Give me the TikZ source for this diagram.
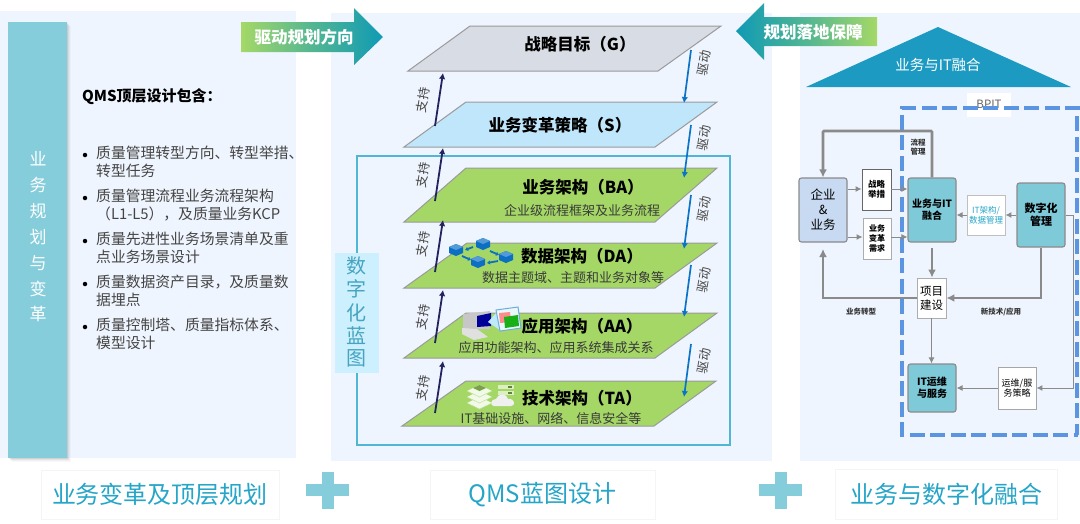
\documentclass[tikz,border=0pt]{standalone}
\usepackage{fontspec}
\setmainfont{Noto Sans CJK SC}
\usetikzlibrary{arrows.meta,calc}
\definecolor{panel}{HTML}{EFF5FE}
\definecolor{barc}{HTML}{85CDDB}
\definecolor{teal}{HTML}{0F9AB5}
\definecolor{lime}{HTML}{A5D867}
\definecolor{planeg}{HTML}{D8DCE4}
\definecolor{planes}{HTML}{BFE6FA}
\definecolor{planeb}{HTML}{A4D766}
\definecolor{planeline}{HTML}{9A9A9A}
\definecolor{navy}{HTML}{22235F}
\definecolor{drive}{HTML}{0B74C8}
\definecolor{frameb}{HTML}{4FB6D6}
\definecolor{titleb}{HTML}{25A5C8}
\definecolor{boxg}{HTML}{8A8A8A}
\definecolor{fusion}{HTML}{7FCAD9}
\definecolor{ent}{HTML}{C8DAF2}
\definecolor{dashb}{HTML}{5B94E0}
\definecolor{txt}{HTML}{444444}
\definecolor{hexc}{HTML}{0B6FC4}
\definecolor{roofc}{HTML}{1D9AC2}
\definecolor{bluebox}{HTML}{CDF0FE}
\newcommand{\fsz}[1]{\fontsize{#1}{\the\dimexpr#1pt*12/10\relax}\selectfont}
\newcommand{\hexa}[2]{\fill[hexc] (#1,#2-6) -- (#1+7,#2-3) -- (#1+7,#2+3) -- (#1,#2+6) -- (#1-7,#2+3) -- (#1-7,#2-3) -- cycle;
 \fill[hexc!70!white] (#1,#2-6) -- (#1+7,#2-3) -- (#1,#2) -- (#1-7,#2-3) -- cycle;}
\tikzset{
 plane/.style={draw=planeline,line width=1pt,line join=miter},
 supportarrow/.style={navy,line width=1.8pt,-{Latex[length=6pt,width=6.5pt]}},
 drivearrow/.style={drive,line width=1.7pt,-{Latex[length=6pt,width=6.5pt]}},
 ptitle/.style={font=\fsz{16.5}\bfseries,text=black,inner sep=0pt},
 psub/.style={font=\fsz{13},text=txt!85!black,inner sep=0pt},
 sidelabel/.style={font=\fsz{12.5},text=txt,rotate=80,inner sep=0pt},
 botbox/.style={draw=black!4,fill=white,inner sep=0pt,anchor=center,font=\fsz{24},text=titleb},
 listline/.style={font=\fsz{14.8},text=txt,anchor=west,inner sep=0pt},
 bulletdot/.style={circle,fill=black,inner sep=0pt,minimum size=4.5pt},
 bartext/.style={font=\fsz{17},text=white,inner sep=0pt},
 bluetext/.style={font=\fsz{20},text=frameb!90!black,inner sep=0pt},
 rbox/.style={draw=boxg,line width=1.1pt,rounded corners=2.5pt,align=center,inner sep=0pt},
 wbox/.style={draw=boxg!70,fill=white,line width=.9pt,align=center,inner sep=0pt},
 thickcon/.style={boxg,line width=2.6pt,-{Latex[length=8pt,width=8pt]}},
 thincon/.style={boxg,line width=1pt,-{Latex[length=6pt,width=6pt]}},
 smalllabel/.style={font=\fsz{7.5}\bfseries,text=black!80,inner sep=0pt,align=center},
}
\begin{document}
\begin{tikzpicture}[x=1pt,y=-1pt]
\useasboundingbox (0,0) rectangle (1080,523);
\fill[white] (0,0) rectangle (1080,523);
% panels
\fill[panel] (0,11) rectangle (296,458);
\fill[panel] (331,13) rectangle (772,461);
\fill[panel] (800,13) rectangle (1080,461);
% left bar
\foreach \d/\o in {4/.025,3/.035,2/.05,1/.07}{\fill[black,opacity=\o] (8+\d,22+\d) rectangle (67+\d,458+\d);}
\fill[barc] (8,22) rectangle (67,458);
\foreach \c/\y in {业/159,务/185,规/211,划/237,与/263,变/289,革/314}{\node[bartext] (bar\y) at (38,\y) {\c};}
% left list
\node[font=\fsz{15}\bfseries,anchor=west,inner sep=0pt] (ltitle) at (82,97) {QMS顶层设计包含：};
\foreach \y in {155,198,241,284,327}{\node[bulletdot] (bul\y) at (85,\y) {};}
\node[listline] (l1) at (96,153) {质量管理转型方向、转型举措、};
\node[listline] (l2) at (96,171) {转型任务};
\node[listline] (l3) at (96,196) {质量管理流程业务流程架构};
\node[listline] (l4) at (96,214) {（L1-L5），及质量业务KCP};
\node[listline] (l5) at (96,239) {质量先进性业务场景清单及重};
\node[listline] (l6) at (96,257) {点业务场景设计};
\node[listline] (l7) at (96,282) {质量数据资产目录，及质量数};
\node[listline] (l8) at (96,300) {据埋点};
\node[listline] (l9) at (96,325) {质量控制塔、质量指标体系、};
\node[listline] (l10) at (96,343) {模型设计};
% big arrows
\shade[left color=lime,right color=teal,middle color=teal!55!lime] (241,22) -- (354,22) -- (354,8) -- (383,37) -- (354,65) -- (354,52) -- (241,52) -- cycle;
\node[font=\fsz{16.5}\bfseries,text=white,inner sep=0pt] (a1) at (304,37) {驱动规划方向};
\shade[left color=teal,right color=lime,middle color=teal!55!lime] (877,17) -- (764,17) -- (764,3) -- (736,31) -- (764,60) -- (764,46) -- (877,46) -- cycle;
\node[font=\fsz{16.5}\bfseries,text=white,inner sep=0pt] (a2) at (813,32) {规划落地保障};
% frame
\draw[frameb,line width=1.2pt] (357,156) rectangle (730,445);
\fill[bluebox] (335,253) rectangle (379,373);
\foreach \c/\y in {数/266,字/289,化/313,蓝/336,图/358}{\node[bluetext] (blue\y) at (356,\y) {\c};}
% planes
\draw[plane,fill=planeg] (470,26) -- (721,26) -- (658,71) -- (408,71) -- cycle;
\draw[plane,fill=planes] (466,102) -- (717,102) -- (655,147) -- (404,147) -- cycle;
\draw[plane,fill=planeb] (466,168) -- (717,168) -- (655,222) -- (404,222) -- cycle;
\draw[plane,fill=planeb] (467,243) -- (717,243) -- (655,288) -- (404,288) -- cycle;
\draw[plane,fill=planeb] (466,313) -- (717,313) -- (655,358) -- (404,358) -- cycle;
\draw[plane,fill=planeb] (466,381) -- (716,381) -- (654,426) -- (402,426) -- cycle;
\node[ptitle] (g) at (580,44) {战略目标（G）};
\node[ptitle] (s) at (560,125) {业务变革策略（S）};
\node[ptitle] (ba) at (583,187) {业务架构（BA）};
\node[psub] (bas) at (582,211) {企业级流程框架及业务流程};
\node[ptitle] (da) at (582,256) {数据架构（DA）};
\node[psub] (das) at (573,278) {数据主题域、主题和业务对象等};
\node[ptitle] (aa) at (582,326) {应用架构（AA）};
\node[psub] (aas) at (556,348) {应用功能架构、应用系统集成关系};
\node[ptitle] (ta) at (582,398) {技术架构（TA）};
\node[psub] (tas) at (551,418) {IT基础设施、网络、信息安全等};
% support / drive arrows
\foreach \i/\x/\y/\u/\v in {1/435/126/443/73,2/435/201/443/148,3/435/272/443/220,4/435/343/443/290,5/435/413/443/361}{
 \coordinate (su\i) at (\x,\y); \coordinate (sv\i) at (\u,\v);
 \draw[supportarrow] (su\i) -- (sv\i);}
\foreach \i/\x/\y/\u/\v in {1/691/50/684/103,2/691/125/684/178,3/691/195/684/249,4/691/265/684/317,5/691/344/684/397}{
 \coordinate (du\i) at (\x,\y); \coordinate (dv\i) at (\u,\v);
 \draw[drivearrow] (du\i) -- (dv\i);}
\foreach \i/\y in {1/100,2/175,3/244,4/317,5/388}{\node[sidelabel] (sl\i) at (423,\y) {支持};}
\foreach \i/\y in {1/63,2/138,3/209,4/280,5/361}{\node[sidelabel] (dl\i) at (704,\y) {驱动};}
% data icon
\hexa{456}{250}\hexa{483}{244}\hexa{506}{257}\hexa{478}{262}
\draw[hexc,line width=1.8pt,-{Latex[length=3pt,width=4.5pt]}] (473,247) -- (465,250);
\draw[hexc,line width=1.8pt,-{Latex[length=3pt,width=4.5pt]}] (490,251) -- (499,255);
\draw[hexc,line width=1.8pt,-{Latex[length=3pt,width=4.5pt]}] (462,256) -- (471,260);
\draw[hexc,line width=1.8pt,-{Latex[length=3pt,width=4.5pt]}] (498,261) -- (487,263);
% app icon
\fill[black!22] (463,314) -- (490,311) -- (490,329) -- (463,330) -- cycle;
\fill[black!12] (462,328) -- (477,329) -- (488,337) -- (474,340) -- (462,334) -- cycle;
\fill[blue!60!black] (477,316) -- (491,313) -- (491,326) -- (477,327) -- cycle;
\fill[cyan!25] (488,322) -- (497,312) -- (500,330) -- cycle;
\draw[drive!60,fill=yellow!15!cyan!10,line width=1pt] (496,310) -- (518,307) -- (521,328) -- (500,331) -- cycle;
\fill[red!45] (499,313) -- (510,312) -- (511,322) -- (500,323) -- cycle;
\fill[green!65!black!90] (504,317) -- (518,315) -- (519,326) -- (505,328) -- cycle;
% tech icon
\foreach \y in {403,397,391}{\fill[white!85!planeb] (467,\y) -- (479.5,\y-6) -- (492,\y) -- (479.5,\y+6) -- cycle;
 \draw[planeb!70,line width=.5pt] (467,\y) -- (479.5,\y+6) -- (492,\y);}
\fill[planeb!75!black] (473,388) -- (479.5,385) -- (486,388) -- (479.5,391) -- cycle;
\fill[white!60!planeb] (498,385) rectangle (514,389);
\fill[white!60!planeb] (498,390.5) rectangle (514,394.5);
\fill[planeb!60!black] (508,386) rectangle (512,388);
\fill[planeb!60!black] (508,391.5) rectangle (512,393.5);
\fill[black!6] (494,406) .. controls (490,406) and (490,399) .. (496,399) .. controls (498,393) and (507,393) .. (508,399) .. controls (515,398) and (516,406) .. (511,406) -- cycle;
% right triangle
\fill[roofc] (938,27) -- (1071,87) -- (806,87) -- cycle;
\node[font=\fsz{14.5},text=white,inner sep=0pt] (tri) at (938,65) {业务与IT融合};
% BPIT dashed
\fill[white] (967,93) rectangle (1011,117);
\node[font=\fsz{11.5},text=black!60,inner sep=0pt] (bpit) at (989,104) {BPIT};
\draw[dashb,line width=4pt,dash pattern=on 15pt off 5.5pt] (1080,108) -- (902,108) -- (902,435) -- (1078,435);
\draw[dashb,line width=4pt,dash pattern=on 15pt off 5.5pt] (1077,116) -- (1077,435);
% right boxes
\node[rbox,fill=ent,minimum width=48,minimum height=64,font=\fsz{12.5}] (biz) at (823,210) {企业\\\&\\业务};
\node[wbox,draw=black!60,minimum width=29,minimum height=41,font=\fsz{8.5}\bfseries] (strat) at (876.5,189.5) {战略\\举措};
\node[wbox,minimum width=28,minimum height=41,font=\fsz{8}\bfseries] (need) at (877,238.5) {业务\\变革\\需求};
\node[rbox,fill=fusion,minimum width=48,minimum height=64,font=\fsz{10}\bfseries] (fus) at (932,210) {业务与IT\\融合};
\node[wbox,draw=black!25,minimum width=38,minimum height=40,font=\fsz{8.5},text=titleb] (itarch) at (986,215) {IT架构/\\数据管理};
\node[rbox,fill=fusion,minimum width=48,minimum height=64,font=\fsz{11}\bfseries] (dig) at (1041,215) {数字化\\管理};
\node[wbox,minimum width=29,minimum height=40,font=\fsz{11.5}] (proj) at (931.5,298) {项目\\建设};
\node[rbox,fill=fusion,minimum width=48,minimum height=48,font=\fsz{10}\bfseries] (ops) at (932,388) {IT运维\\与服务};
\node[wbox,draw=black!35,minimum width=38,minimum height=42,font=\fsz{9}] (opsp) at (1017,388) {运维/服\\务策略};
% right connectors
\draw[thickcon,rounded corners=1pt] (fus.north) -- (fus.north |- 0,131) -- (biz.north |- 0,131) -- (biz.north);
\draw[thincon] (biz.east |- 0,189) -- (strat.west |- 0,189);
\draw[thincon] (strat.east |- 0,189) -- (fus.west |- 0,189);
\draw[thincon] (biz.east |- 0,237) -- (need.west |- 0,237);
\draw[thincon] (need.east |- 0,237) -- (fus.west |- 0,237);
\draw[thincon] (itarch.west) -- (fus.east |- itarch.west);
\draw[thincon] (dig.west) -- (itarch.east);
\draw[thickcon] (fus.south |- 0,248) -- ([xshift=.5pt]proj.north);
\draw[thickcon,line width=2.2pt] (dig.south) -- (dig.south |- proj.east) -- (proj.east);
\draw[thickcon] (proj.west) -- (biz.south |- proj.west) -- (biz.south |- 0,249);
\draw[thincon] (proj.south) -- (ops.north -| proj.south);
\draw[thincon] (dig.east) -- (1073,215) |- (opsp.east);
\draw[thincon] (opsp.west) -- (ops.east);
\node[smalllabel] (lc) at (918,147) {流程\\管理};
\node[smalllabel] (lt) at (861,312) {业务转型};
\node[smalllabel] (ln) at (1001,312) {新技术/应用};
% bottom
\node[botbox,minimum width=238,minimum height=49] (b1) at (160,494.5) {业务变革及顶层规划};
\node[botbox,minimum width=225,minimum height=49] (b2) at (542.5,494.5) {QMS蓝图设计};
\node[botbox,minimum width=222,minimum height=50] (b3) at (946,494) {业务与数字化融合};
\foreach \x in {328,781}{
 \fill[barc] (\x-22,484) rectangle (\x+21,496);
 \fill[barc] (\x-6,472) rectangle (\x+6,509);
}
\end{tikzpicture}
\end{document}
